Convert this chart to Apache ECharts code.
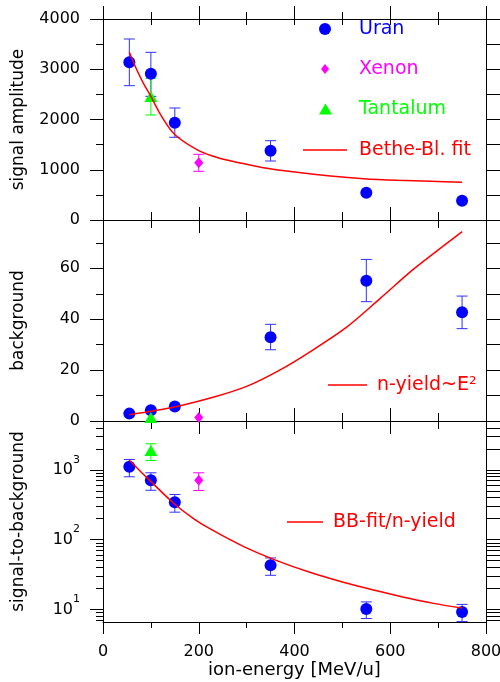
<!DOCTYPE html>
<html>
<head>
<meta charset="utf-8">
<script src="https://cdn.jsdelivr.net/npm/echarts@6/dist/echarts.min.js"></script>
<style>
  html, body { margin: 0; padding: 0; background: #fff; }
  #chart { width: 500px; height: 682px; }
</style>
</head>
<body>
<div id="chart"></div>
<script>
// ion energies [MeV/u]
const uranE = [55, 100, 150, 350, 550, 750];
const xenonE = [200];
const tantalE = [100];

// panel 1: signal amplitude
const uranSig = [3138, 2912, 1937, 1379, 543, 384];
const uranSigLo = [2673, 2461, 1646, 1174, null, null];
const uranSigHi = [3602, 3337, 2229, 1578, null, null];
const xenonSig = [1141], xenonSigLo = [969], xenonSigHi = [1307];
const tantalSig = [2460], tantalSigLo = [2090], tantalSigHi = [2820];
const bbFitE = [55, 70, 85, 100, 120, 150, 200, 240, 290, 335, 405, 475, 545, 615, 685, 750];
const bbFit = [3337, 3000, 2710, 2460, 2100, 1700, 1380, 1240, 1128, 1041, 949, 876, 822, 790, 770, 750];

// panel 2: background
const uranBg = [2.9, 4.2, 5.7, 32.9, 55.1, 42.7];
const uranBgLo = [null, null, null, 28.0, 46.9, 36.3];
const uranBgHi = [null, null, null, 38.0, 63.5, 49.1];
const xenonBg = [1.4];
const tantalBg = [1.4];
const nYieldE = [55, 100, 161, 230, 300, 370, 439, 509, 579, 648, 718, 750];
const nYield = [2.5, 3.8, 6.0, 9.3, 13.6, 20.1, 28.0, 36.9, 48.2, 59.6, 69.8, 74.4];

// panel 3: signal-to-background
const uranSb = [1105, 710, 343, 42.8, 10.1, 9.2];
const uranSbLo = [794, 509, 247, 30.8, 7.4, 6.7];
const uranSbHi = [1406, 906, 443, 54.6, 12.8, 11.8];
const xenonSb = [710], xenonSbLo = [505], xenonSbHi = [906];
const tantalSb = [1893], tantalSbLo = [1360], tantalSbHi = [2360];
const sbFitE = [55, 98, 147, 189, 224, 293, 363, 432, 502, 572, 641, 690, 750];
const sbFit = [1374, 700, 335, 200, 142, 80, 50, 34, 24.5, 18.5, 14.3, 12.2, 10.5];

// tick values
const logMajor = [10, 100, 1000];
const logMinor = [7, 8, 9, 20, 30, 40, 50, 60, 70, 80, 90, 200, 300, 400, 500, 600, 700, 800, 900, 2000, 3000, 4000];

const FONT = 'DejaVu Sans';
const BLUE = '#0000ff', MAGENTA = '#ff00ff', GREEN = '#00ff00', RED = '#ff0000';

const pts = (xs, ys) => xs.map((x, i) => [x, ys[i]]);
const errs = (xs, lo, hi) => xs.map((x, i) => [x, lo[i], hi[i]]).filter(d => d[1] != null);

function errRender(color) {
  return function (params, api) {
    const x = api.value(0);
    const lo = api.coord([x, api.value(1)]);
    const hi = api.coord([x, api.value(2)]);
    const w = 5.5;
    const style = { stroke: color, lineWidth: 1 };
    return {
      type: 'group',
      children: [
        { type: 'line', shape: { x1: lo[0], y1: lo[1], x2: hi[0], y2: hi[1] }, style },
        { type: 'line', shape: { x1: lo[0] - w, y1: lo[1], x2: lo[0] + w, y2: lo[1] }, style },
        { type: 'line', shape: { x1: hi[0] - w, y1: hi[1], x2: hi[0] + w, y2: hi[1] }, style }
      ]
    };
  };
}

function errSeries(name, xi, yi, data, color) {
  return {
    name: name + ' error', type: 'custom', xAxisIndex: xi, yAxisIndex: yi, z: 2,
    renderItem: errRender(color), encode: { x: 0, y: [1, 2] }, data, silent: true
  };
}
function dots(name, xi, yi, data, color, symbol, size) {
  return {
    name, type: 'scatter', xAxisIndex: xi, yAxisIndex: yi, z: 3,
    symbol, symbolSize: size, itemStyle: { color, opacity: 1 }, data
  };
}
function fit(name, xi, yi, data) {
  return {
    name, type: 'line', xAxisIndex: xi, yAxisIndex: yi, z: 4,
    smooth: 0.3, symbol: 'none',
    lineStyle: { color: RED, width: 1.5 }, itemStyle: { color: RED }, data
  };
}

const black = { color: '#000', width: 1 };
function xAx(grid, position, inside, len, minorLen, extra) {
  return Object.assign({
    type: 'value', gridIndex: grid, position, min: 0, max: 800, interval: 200,
    axisLine: { show: true, onZero: false, lineStyle: black },
    axisTick: { show: true, inside, length: len, lineStyle: black },
    minorTick: { show: true, splitNumber: 2, length: minorLen, lineStyle: black },
    axisLabel: { show: false }, splitLine: { show: false }, minorSplitLine: { show: false }
  }, extra || {});
}
const yName = (name) => ({
  name, nameLocation: 'middle', nameGap: 76,
  nameTextStyle: { fontFamily: FONT, fontSize: 17, color: '#000' }
});
const yLabel = { show: true, fontFamily: FONT, fontSize: 16, color: '#000', margin: 23, formatter: v => String(v) };

function legendAt(name, icon, left, cy, w, h, color, pad) {
  return {
    data: [{ name, icon }], left, top: cy - 10, itemWidth: w, itemHeight: h,
    selectedMode: false, padding: 0,
    textStyle: { color, fontFamily: FONT, fontSize: 19, lineHeight: 20, padding: [0, 0, 0, pad] }
  };
}

const option = {
  animation: false,
  backgroundColor: '#fff',
  grid: [
    { left: 103, width: 383, top: 19, height: 201, outerBoundsMode: 'none' },
    { left: 103, width: 383, top: 220, height: 201, outerBoundsMode: 'none' },
    { left: 103, width: 383, top: 421, height: 201, outerBoundsMode: 'none' }
  ],
  xAxis: [
    xAx(0, 'bottom', true, 13, 8),
    xAx(0, 'top', true, 6, 6),
    xAx(0, 'top', false, 13, 7, { axisLine: { show: false, onZero: false } }),
    xAx(1, 'top', true, 13, 8),
    xAx(1, 'bottom', true, 13, 8),
    xAx(2, 'top', true, 13, 8),
    xAx(2, 'bottom', false, 12, 6, {
      axisLabel: { show: true, fontFamily: FONT, fontSize: 16, color: '#000', margin: 22 },
      name: 'ion-energy [MeV/u]', nameLocation: 'middle', nameGap: 31,
      nameTextStyle: { fontFamily: FONT, fontSize: 18, color: '#000' }
    })
  ],
  yAxis: [
    Object.assign({
      type: 'value', gridIndex: 0, position: 'left', min: 0, max: 4000, interval: 1000,
      axisLine: { show: true, onZero: false, lineStyle: black },
      axisTick: { show: true, inside: false, length: 13, lineStyle: black },
      minorTick: { show: true, splitNumber: 2, length: 7, lineStyle: black },
      axisLabel: yLabel, splitLine: { show: false }
    }, yName('signal amplitude')),
    {
      type: 'value', gridIndex: 0, position: 'right', min: 0, max: 4000, interval: 500,
      axisLine: { show: true, onZero: false, lineStyle: black },
      axisTick: { show: true, inside: false, length: 14, lineStyle: black },
      axisLabel: { show: false }, splitLine: { show: false }
    },
    Object.assign({
      type: 'value', gridIndex: 1, position: 'left', min: 0, max: 79, interval: 20,
      axisLine: { show: true, onZero: false, lineStyle: black },
      axisTick: { show: true, inside: false, length: 13, lineStyle: black },
      minorTick: { show: true, splitNumber: 2, length: 7, lineStyle: black },
      axisLabel: Object.assign({ showMaxLabel: false }, yLabel), splitLine: { show: false }
    }, yName('background')),
    {
      type: 'value', gridIndex: 1, position: 'right', min: 0, max: 79, interval: 10,
      axisLine: { show: true, onZero: false, lineStyle: black },
      axisTick: { show: true, inside: false, length: 14, lineStyle: black },
      axisLabel: { show: false }, splitLine: { show: false }
    },
    Object.assign({
      type: 'log', gridIndex: 2, position: 'left', min: 6.6, max: 5000,
      axisLine: { show: true, onZero: false, lineStyle: black },
      axisTick: { show: true, inside: false, length: 13, lineStyle: black, customValues: logMajor },
      axisLabel: Object.assign({}, yLabel, {
        customValues: logMajor,
        formatter: v => '10{sup|' + Math.round(Math.log10(v)) + '}',
        rich: { sup: { fontFamily: FONT, fontSize: 11, lineHeight: 11, color: '#000', padding: [0, 0, 20, 0] } }
      }),
      splitLine: { show: false }
    }, yName('signal-to-background')),
    {
      type: 'log', gridIndex: 2, position: 'left', min: 6.6, max: 5000,
      axisLine: { show: false, onZero: false },
      axisTick: { show: true, inside: false, length: 7, lineStyle: black, customValues: logMinor },
      axisLabel: { show: false }, splitLine: { show: false }
    },
    {
      type: 'log', gridIndex: 2, position: 'right', min: 6.6, max: 5000,
      axisLine: { show: true, onZero: false, lineStyle: black },
      axisTick: { show: true, inside: false, length: 14, lineStyle: black, customValues: logMajor.concat(logMinor) },
      axisLabel: { show: false }, splitLine: { show: false }
    }
  ],
  legend: [
    legendAt('Uran', 'circle', 319, 29, 12, 12, BLUE, 23),
    legendAt('Xenon', 'diamond', 321, 69, 8, 10, MAGENTA, 25),
    legendAt('Tantalum', 'triangle', 319, 109, 13, 11, GREEN, 22),
    legendAt('Bethe-Bl. fit', 'rect', 303, 150, 44, 1.5, RED, 7),
    legendAt('n-yield~E²', 'rect', 328, 385, 39, 1.5, RED, 5),
    legendAt('BB-fit/n-yield', 'rect', 287, 522, 36, 1.5, RED, 5)
  ],
  series: [
    // panel 1
    errSeries('Uran', 0, 0, errs(uranE, uranSigLo, uranSigHi), '#3030ff'),
    errSeries('Xenon', 0, 0, errs(xenonE, xenonSigLo, xenonSigHi), MAGENTA),
    errSeries('Tantalum', 0, 0, errs(tantalE, tantalSigLo, tantalSigHi), GREEN),
    dots('Uran', 0, 0, pts(uranE, uranSig), BLUE, 'circle', 12),
    dots('Xenon', 0, 0, pts(xenonE, xenonSig), MAGENTA, 'diamond', [9, 11]),
    dots('Tantalum', 0, 0, pts(tantalE, tantalSig), GREEN, 'triangle', [13, 11]),
    fit('Bethe-Bl. fit', 0, 0, pts(bbFitE, bbFit)),
    // panel 2
    errSeries('Uran', 4, 2, errs(uranE, uranBgLo, uranBgHi), '#3030ff'),
    dots('Uran', 4, 2, pts(uranE, uranBg), BLUE, 'circle', 12),
    dots('Xenon', 4, 2, pts(xenonE, xenonBg), MAGENTA, 'diamond', [9, 11]),
    dots('Tantalum', 4, 2, pts(tantalE, tantalBg), GREEN, 'triangle', [13, 11]),
    fit('n-yield~E²', 4, 2, pts(nYieldE, nYield)),
    // panel 3
    errSeries('Uran', 6, 4, errs(uranE, uranSbLo, uranSbHi), '#3030ff'),
    errSeries('Xenon', 6, 4, errs(xenonE, xenonSbLo, xenonSbHi), MAGENTA),
    errSeries('Tantalum', 6, 4, errs(tantalE, tantalSbLo, tantalSbHi), GREEN),
    dots('Uran', 6, 4, pts(uranE, uranSb), BLUE, 'circle', 12),
    dots('Xenon', 6, 4, pts(xenonE, xenonSb), MAGENTA, 'diamond', [9, 11]),
    dots('Tantalum', 6, 4, pts(tantalE, tantalSb), GREEN, 'triangle', [13, 11]),
    fit('BB-fit/n-yield', 6, 4, pts(sbFitE, sbFit))
  ]
};

const chart = echarts.init(document.getElementById('chart'));
chart.setOption(option);
</script>
</body>
</html>
